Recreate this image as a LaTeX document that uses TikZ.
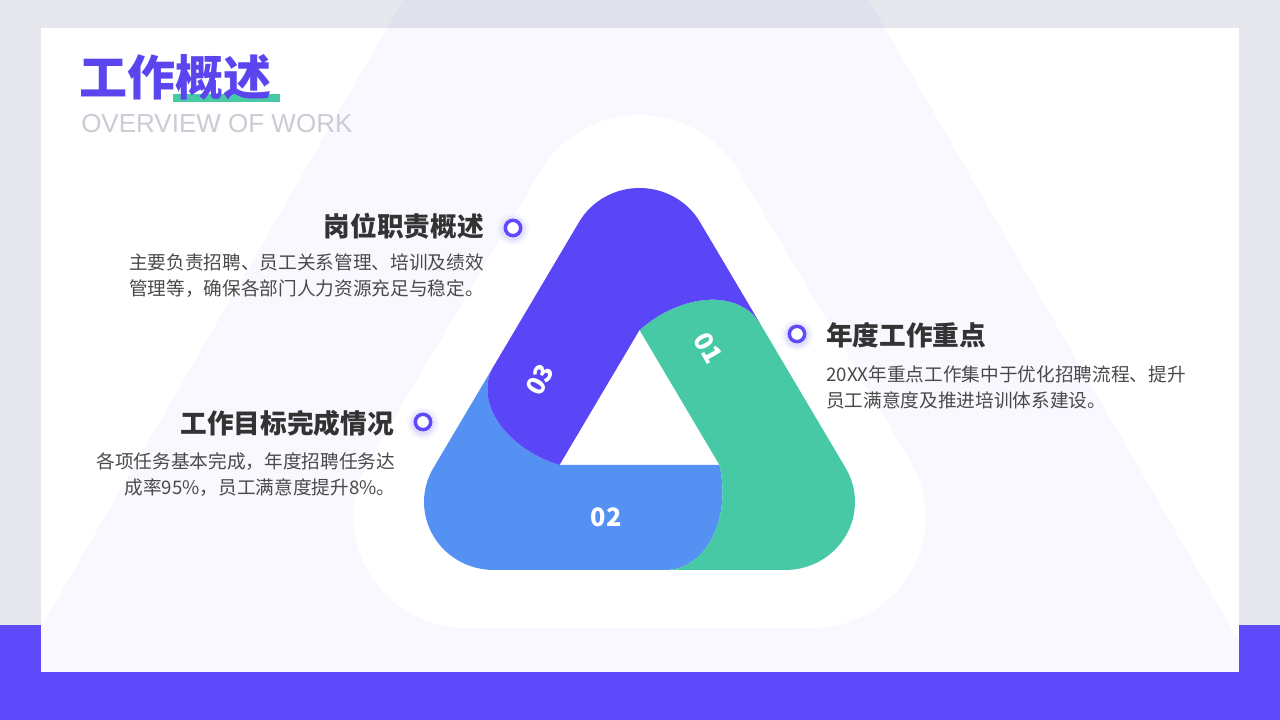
\documentclass[tikz,border=0pt]{standalone}
\usepackage{fontspec}
\setmainfont{Noto Sans CJK SC}
\newfontfamily\latinfont{Liberation Sans}
\definecolor{pagegray}{HTML}{E5E7EC}
\definecolor{brandpurple}{HTML}{5E4AFA}
\definecolor{bandpurple}{HTML}{5B46F7}
\definecolor{bandblue}{HTML}{5591F2}
\definecolor{bandgreen}{HTML}{48C9A6}
\definecolor{titlepurple}{HTML}{5A45EE}
\definecolor{subgray}{HTML}{C9CCD4}
\definecolor{headgray}{HTML}{333333}
\definecolor{bodygray}{HTML}{4A4A4A}

\begin{document}
\begin{tikzpicture}[x=0.75pt, y=0.75pt,
  heading/.style={font=\bfseries\fontsize{20}{24}\selectfont, text=headgray, inner sep=0pt},
  body/.style={font=\fontsize{14}{19.5}\selectfont, text=bodygray, inner sep=0pt},
  dotmark/.style={circle, draw=brandpurple, line width=2.6pt, fill=white, minimum size=11.5pt, inner sep=0pt},
  num/.style={font=\bfseries\fontsize{19}{19}\selectfont, text=white, inner sep=0pt}]
\useasboundingbox (0,0) rectangle (1280,720);

% page, bottom band and card
\fill[pagegray] (0,0) rectangle (1280,720);
\fill[brandpurple] (0,0) rectangle (1280,95);
\fill[white] (41,48) rectangle (1239,692);
\begin{scope}
  \clip (0,95) rectangle (1280,720) (41,48) rectangle (1239,692);
  \fill[brandpurple, opacity=0.035] (636,1123) -- (-128,-200) -- (1400,-200) -- cycle;
\end{scope}

% halo and the three bands
\begin{scope}[shift={(639.5,300)}, xscale=1.026]
  \fill[white] (-168,-208) -- (168,-208) arc[start angle=-90, end angle=30, radius=111]
    -- (96.1,249.5) arc[start angle=30, end angle=150, radius=111]
    -- (-264.1,-41.5) arc[start angle=150, end angle=270, radius=111] -- cycle;
  \foreach \ang/\col in {0/bandblue, 120/bandgreen, 240/bandpurple}
    \fill[\col, rotate=\ang] (-77.94,-45) .. controls (-131.6,-27.9) and (-161.9,19.6) .. (-142.4,53.35)
      -- (-200.9,-48) arc[start angle=150, end angle=270, radius=68]
      -- (25,-150) .. controls (64,-150) and (90,-100) .. (77.94,-45) -- cycle;
\end{scope}

\node[num] (n02) at (606,203) {02};
\node[num, rotate=-60] (n01) at (708,372) {01};
\node[num, rotate=60] (n03) at (540,340) {03};

% title
\fill[bandgreen] (173,618) rectangle (280,626);
\node[anchor=west, inner sep=0pt, font=\bfseries\fontsize{36}{40}\selectfont, text=titlepurple] (title) at (79,642.5) {工作概述};
\node[anchor=west, inner sep=0pt, font=\latinfont\fontsize{19.5}{20}\selectfont, text=subgray] (subtitle) at (81,596) {OVERVIEW OF WORK};

% markers
\coordinate (p1) at (513,492);
\coordinate (p2) at (797,386);
\coordinate (p3) at (423,298);
\foreach \p in {p1,p2,p3}
  \foreach \r/\o in {16/0.04, 13.5/0.06, 11.5/0.08}
    \fill[brandpurple, opacity=\o] ([yshift=-1pt]\p) circle[radius=\r];
\node[dotmark] (dot1) at (p1) {};
\node[dotmark] (dot2) at (p2) {};
\node[dotmark] (dot3) at (p3) {};

% texts
\node[heading, anchor=east] (dutyhead) at (484,494) {岗位职责概述};
\node[body, anchor=east, align=right] (dutytext) at (484,444) {主要负责招聘、员工关系管理、培训及绩效\\管理等，确保各部门人力资源充足与稳定。};
\node[heading, anchor=west] (focushead) at (826,385) {年度工作重点};
\node[body, anchor=west, align=left] (focustext) at (826,332.5) {20XX年重点工作集中于优化招聘流程、提升\\员工满意度及推进培训体系建设。};
\node[heading, anchor=east] (goalhead) at (394,296.5) {工作目标完成情况};
\node[body, anchor=east, align=right] (goaltext) at (395.5,245) {各项任务基本完成，年度招聘任务达\\成率95\%，员工满意度提升8\%。};
\end{tikzpicture}
\end{document}
